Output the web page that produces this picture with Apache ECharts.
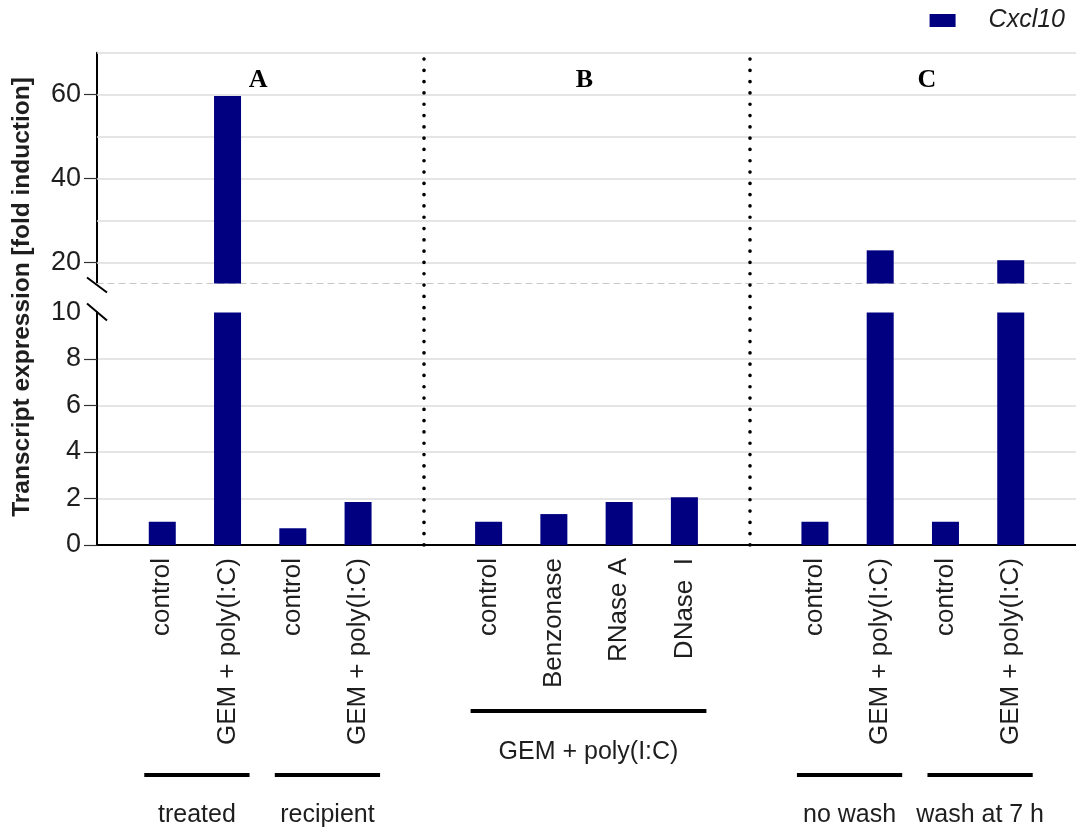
<!DOCTYPE html>
<html><head><meta charset="utf-8">
<script src="https://cdn.jsdelivr.net/npm/echarts@6/dist/echarts.min.js"></script>
<style>html,body{margin:0;padding:0;background:#fff}#c{width:1076px;height:827px}</style>
</head><body><div id="c"></div>
<script>
// ---- data ----
const catsA = ['control', 'GEM + poly(I:C)', 'control', 'GEM + poly(I:C)'];
const valsA = [1.0, 59.7, 0.72, 1.85];
const catsB = ['control', 'Benzonase', 'RNase A', 'DNase  I'];
const valsB = [1.0, 1.33, 1.85, 2.05];
const catsC = ['control', 'GEM + poly(I:C)', 'control', 'GEM + poly(I:C)'];
const valsC = [1.0, 22.9, 1.0, 20.55];
const panelLabels = ['A', 'B', 'C'];
const bracketNames = ['treated', 'recipient', 'GEM + poly(I:C)', 'no wash', 'wash at 7 h'];
const bracketGroup = [0, 0, 1, 2, 2];
const bracketFrom = [0, 2, 0, 0, 2];
const bracketTo = [1, 3, 3, 1, 3];
const lowerLabels = [0, 2, 4, 6, 8, 10];
const upperLabels = [20, 40, 60];
const upperGridValues = [20, 30, 40, 50, 60, 70];
const seriesName = 'Cxcl10';

// ---- layout ----
const FONT = '"Liberation Sans", Arial, sans-serif';
const TXT = '#1e1e1e';
const L = 97, W = 984;
const upperTop = 52.7, upperH = 230.8;
const lowerTop = 312.5, lowerH = 232.5;
const GAP = 1;

const groupCats = [catsA, catsB, catsC];
const groupVals = [valsA, valsB, valsC];
const offsets = [];
let acc = 0;
groupCats.forEach((c, g) => { offsets.push(acc); acc += c.length + GAP; });
const lastSlot = offsets[offsets.length - 1] + groupCats[groupCats.length - 1].length - 1;
const slotName = {};
const barData = [];
groupCats.forEach((cats, g) => cats.forEach((name, i) => {
  const s = offsets[g] + i;
  slotName[s] = name;
  barData.push([s, groupVals[g][i]]);
}));
const slots = Object.keys(slotName).map(Number);
const dividers = offsets.slice(1).map(o => o - GAP);

const xBase = (idx) => ({
  gridIndex: idx, type: 'value', min: -1, max: lastSlot + 1, interval: 1,
  splitLine: { show: false }, axisTick: { show: false }, axisLabel: { show: false },
  axisLine: { show: false }
});

const chart = echarts.init(document.getElementById('c'), null, { renderer: 'canvas' });
const option = {
  animation: false,
  backgroundColor: '#fff',
  grid: [
    { left: L, top: upperTop, width: W, height: upperH },
    { left: L, top: lowerTop, width: W, height: lowerH },
    { left: L, top: upperTop, width: W, height: lowerTop + lowerH - upperTop }
  ],
  legend: {
    data: [seriesName], right: 11, top: 8, padding: 0,
    icon: 'rect', itemWidth: 26, itemHeight: 13,
    textStyle: { fontSize: 25, fontStyle: 'italic', color: TXT, fontFamily: FONT, padding: [0, 0, 0, 28] }
  },
  xAxis: [
    Object.assign(xBase(0), {
      axisLine: { show: true, onZero: false, lineStyle: { color: '#c8c8c8', width: 1.2, type: [6, 5] } }
    }),
    Object.assign(xBase(1), {
      axisLine: { show: true, onZero: false, lineStyle: { color: '#000', width: 2 } },
      axisLabel: {
        show: true, rotate: 90, margin: 13, fontSize: 26, color: TXT, fontFamily: FONT,
        customValues: slots, formatter: v => slotName[v] || ''
      }
    }),
    xBase(2)
  ],
  yAxis: [
    {
      gridIndex: 0, type: 'value', min: 15, max: 70,
      splitLine: { show: false },
      axisLine: { show: true, onZero: false, lineStyle: { color: '#000', width: 2 } },
      axisTick: { show: true, length: 13, customValues: upperLabels, lineStyle: { color: '#333', width: 1.2 } },
      axisLabel: { fontSize: 27, color: TXT, fontFamily: FONT, margin: 16, customValues: upperLabels }
    },
    {
      gridIndex: 1, type: 'value', min: 0, max: 10, interval: 2,
      splitLine: { show: true, lineStyle: { color: '#dcdcdc', width: 1.5 } },
      axisLine: { show: true, onZero: false, lineStyle: { color: '#000', width: 2 } },
      axisTick: { show: true, length: 13, customValues: [0, 2, 4, 6, 8], lineStyle: { color: '#333', width: 1.2 } },
      axisLabel: { fontSize: 27, color: TXT, fontFamily: FONT, margin: 16, customValues: lowerLabels }
    },
    { gridIndex: 2, type: 'value', min: 0, max: 1, show: false }
  ],
  series: [
    {
      type: 'scatter', xAxisIndex: 0, yAxisIndex: 0, data: [], z: 1, silent: true,
      markLine: {
        z: 1, silent: true, symbol: 'none', label: { show: false },
        lineStyle: { color: '#dcdcdc', width: 1.5, type: 'solid' },
        data: upperGridValues.map(v => ({ yAxis: v }))
      }
    },
    {
      name: seriesName, type: 'bar', xAxisIndex: 0, yAxisIndex: 0, z: 3,
      barWidth: 27, itemStyle: { color: '#000080' }, clip: true, data: barData
    },
    {
      name: seriesName, type: 'bar', xAxisIndex: 1, yAxisIndex: 1, z: 3,
      barWidth: 27, itemStyle: { color: '#000080' }, clip: true, data: barData
    },
    {
      type: 'scatter', xAxisIndex: 2, yAxisIndex: 2, data: [], z: 4, silent: true,
      markLine: {
        silent: true, symbol: 'none', label: { show: false },
        lineStyle: { color: '#000', width: 3.6, type: [0.1, 11.2], cap: 'round' },
        data: dividers.map(v => ({ xAxis: v }))
      }
    }
  ]
};
chart.setOption(option);

// ---- annotations positioned through the x scale ----
const px = v => chart.convertToPixel({ xAxisIndex: 1 }, v);
const graphic = [];
graphic.push({
  type: 'text', x: 22, y: 297, rotation: Math.PI / 2,
  style: { text: 'Transcript expression [fold induction]', font: 'bold 24.5px ' + FONT, fill: TXT, align: 'center', verticalAlign: 'middle' }
});
const panelShift = [-2, -2, 14];
panelLabels.forEach((t, g) => {
  const c = (px(offsets[g]) + px(offsets[g] + groupCats[g].length - 1)) / 2 + panelShift[g];
  graphic.push({ type: 'text', x: c, y: 80, style: { text: t, font: 'bold 26px "Liberation Serif", serif', fill: '#000', align: 'center', verticalAlign: 'middle' } });
});
bracketNames.forEach((t, k) => {
  const g = bracketGroup[k];
  const x1 = px(offsets[g] + bracketFrom[k]) - 18;
  const x2 = px(offsets[g] + bracketTo[k]) + 22;
  const ly = g === 1 ? 711 : 775;
  const ty = g === 1 ? 752 : 815;
  graphic.push({ type: 'line', shape: { x1, y1: ly, x2, y2: ly }, style: { stroke: '#000', lineWidth: 4 } });
  graphic.push({ type: 'text', x: (x1 + x2) / 2, y: ty, style: { text: t, font: '25px ' + FONT, fill: TXT, align: 'center', verticalAlign: 'middle' } });
});
graphic.push({ type: 'line', shape: { x1: L - 10, y1: upperTop + upperH - 6, x2: L + 10, y2: upperTop + upperH + 9 }, style: { stroke: '#000', lineWidth: 2 } });
graphic.push({ type: 'line', shape: { x1: L - 10, y1: lowerTop - 9, x2: L + 10, y2: lowerTop + 8 }, style: { stroke: '#000', lineWidth: 2 } });
chart.setOption({ graphic });
</script>
</body></html>
